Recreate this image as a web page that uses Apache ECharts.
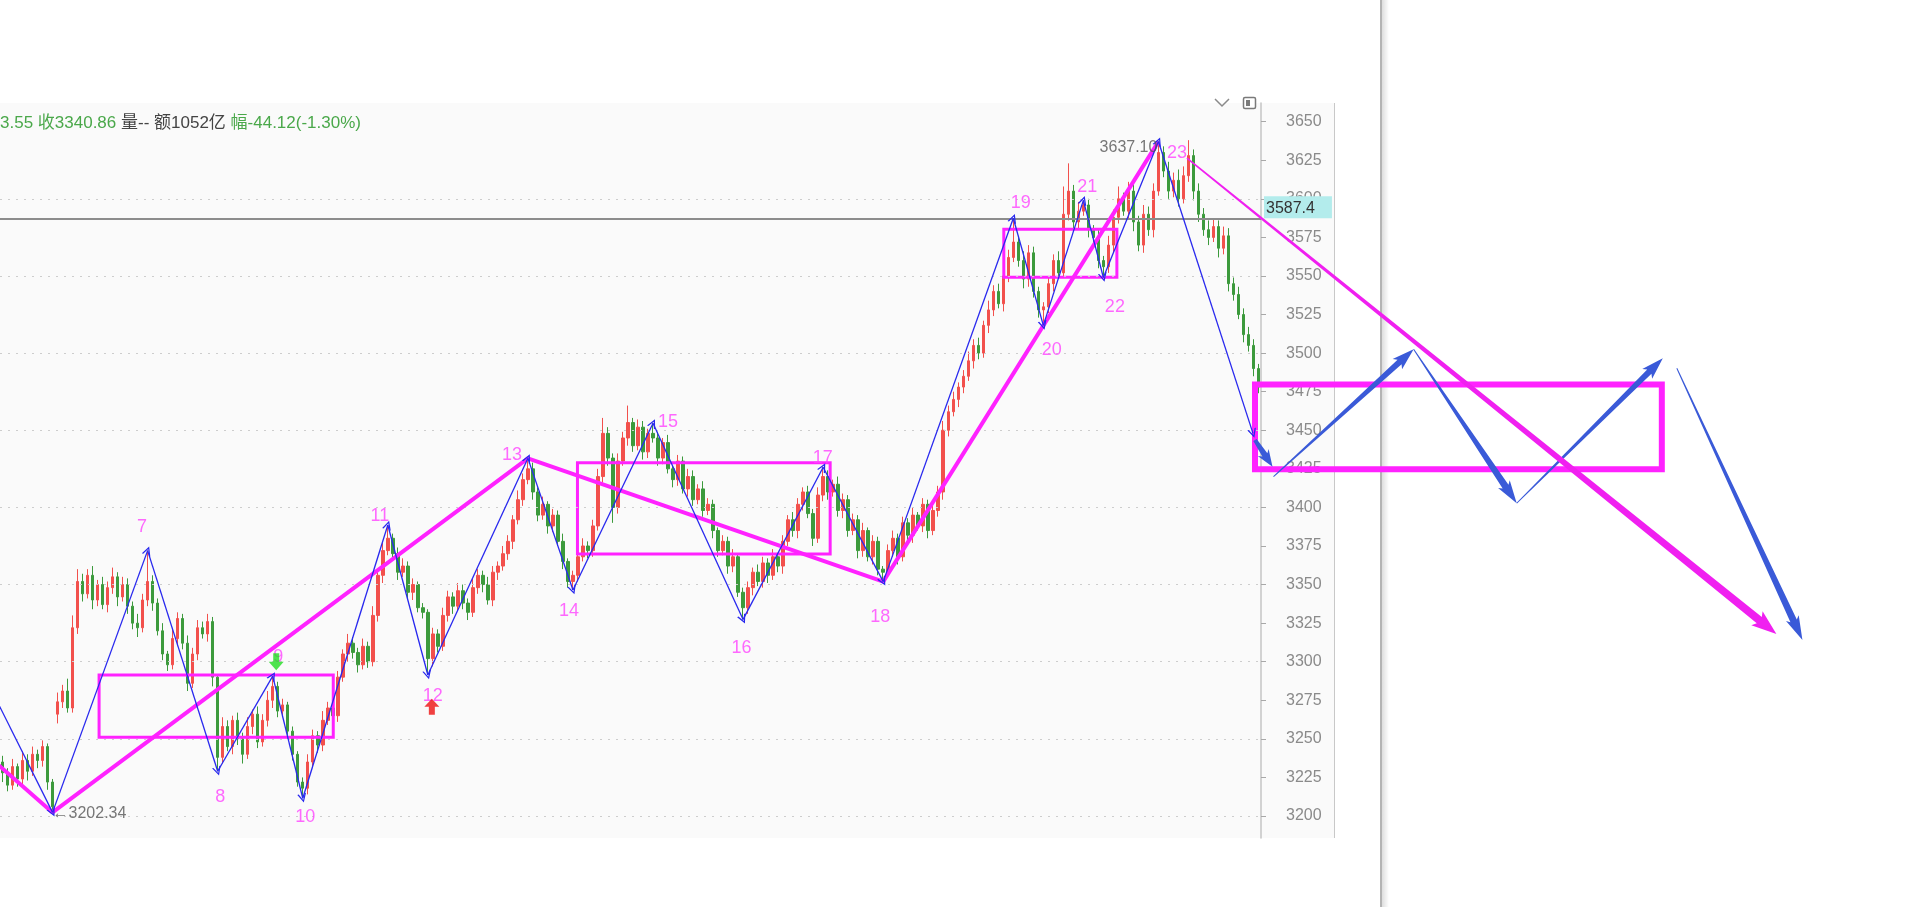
<!DOCTYPE html>
<html><head><meta charset="utf-8">
<script src="https://cdn.jsdelivr.net/npm/echarts@6.0.0/dist/echarts.min.js"></script>
<style>html,body{margin:0;padding:0;background:#fff;}#c{width:1920px;height:907px;}</style>
</head><body><div id="c"></div>
<script>
// ---------------- data ----------------
const firstOpen = 3235;
const closes = [
 3228,3220,3232,3224,3236,3229,3240,3236,3245,3222,
 3206,3274,3281,3270,3322,3352,3344,3356,3340,3350,
 3337,3348,3355,3342,3350,3336,3325,3322,3340,3352,
 3338,3320,3305,3298,3315,3328,3312,3286,3305,3322,
 3318,3326,3290,3238,3258,3245,3262,3250,3240,3258,
 3266,3248,3262,3275,3284,3268,3272,3255,3240,3222,
 3218,3235,3252,3246,3262,3270,3265,3290,3305,3312,
 3306,3298,3310,3300,3330,3356,3372,3380,3370,3358,
 3362,3345,3350,3335,3332,3302,3318,3310,3330,3342,
 3336,3346,3338,3332,3348,3356,3350,3340,3358,3362,
 3370,3378,3392,3405,3418,3425,3410,3395,3402,3388,
 3395,3378,3365,3352,3356,3368,3375,3372,3388,3420,
 3448,3432,3400,3430,3445,3455,3440,3452,3436,3448,
 3445,3432,3442,3425,3418,3430,3412,3420,3405,3412,
 3398,3402,3385,3372,3378,3362,3368,3345,3335,3348,
 3358,3352,3364,3356,3368,3362,3378,3392,3385,3402,
 3410,3396,3380,3408,3420,3410,3415,3398,3405,3385,
 3392,3372,3385,3368,3378,3360,3358,3372,3380,3368,
 3390,3382,3395,3388,3402,3385,3398,3410,3450,3462,
 3470,3478,3485,3495,3505,3500,3518,3528,3540,3532,
 3550,3562,3572,3560,3548,3565,3540,3528,3530,3545,
 3560,3552,3590,3605,3585,3592,3596,3580,3575,3560,
 3556,3570,3588,3600,3592,3605,3585,3570,3590,3580,
 3605,3630,3618,3605,3612,3600,3615,3628,3605,3590,
 3580,3575,3582,3568,3576,3545,3538,3525,3512,3505,
 3490,3478];
const upperWicks = [
 4,3,5,2,6,4,5,3,4,2, 2,6,4,8,8,8,5,4,6,3, 5,4,6,3,5,4,3,6,4,20,
 4,3,5,2,6,4,3,5,4,5, 4,5,3,2,6,4,3,5,4,6, 3,5,4,6,6.7,3,4,2,3,2,
 3,5,4,3,6,4,5,4,3,6, 4,3,5,3,6,4,5,8.6,3,4, 5,3,4,2,3,2,4,3,5,4,
 3,5,4,3,6,4,3,5,4,3, 5,4,3,6,4,6.8,4,3,5,2, 4,3,5,2,3,4,5,3,4,5,
 10,4,3,5,4,11,3,5,4,3, 6.5,4,3,5,2,4,3,5,4,3, 5,4,3,2,4,3,5,2,3,4,
 3,5,4,3,5,2,4,3,5,4, 3,4,3,5,6,4,3,5,4,3, 4,3,5,2,4,3,2,4,5,3,
 4,3,5,2,4,3,5,4,6,4, 5,3,4,6,4,5,3,6,4,5, 6,5,15.4,4,6,5,4,3,3,5,
 4,6,18,18,4,6,3,4,3,5, 3,6,5,8,4,6,5,4,6,5, 5,7.1,4,6,5,7,6,10,4,5,
 4,6,5,4,6,5,4,5,4,5, 4,3];
const lowerWicks = [
 6,4,3,5,4,6,3,5,4,5, 3.66,6,4,3,3,4,5,3,6,4, 3,5,4,6,3,5,4,6,3,4,
 5,3,4,4,3,5,4,5,3,4, 3,5,6,9,4,3,5,4,6,3, 5,4,3,4,5,4,3,5,4,3,
 6.5,4,3,5,4,3,5,4,3,5, 4,5,3,4,3,4,5,3,4,5, 3,4,5,3,4,10.6,5,4,3,4,
 5,3,4,5,3,4,5,3,4,5, 3,4,5,3,4,3,5,4,3,5, 4,3,5,4,5.5,4,3,5,4,3,
 4,5,10,4,3,5,4,3,5,4, 3,5,4,3,5,4,3,5,4,3, 4,3,5,4,3,5,4,3,7.6,4,
 5,3,4,5,3,4,5,3,4,5, 4,3,5,3,4,5,3,4,5,4, 3,5,4,3,5,4,6.1,3,4,5,
 3,4,5,3,4,5,3,4,5,4, 3,5,4,3,5,4,3,5,4,3, 5,4,3,4,6,5,4,5,10,4,
 5,4,3,4,5,4,3,5,4,5, 7,4,5,4,3,5,6,4,5,4, 5,3,4,5,4,5,3,4,6,5,
 4,5,3,6,4,5,4,3,5,4, 5,4];
const gapOpens = [[11, 3266]];

const tickValues = [3200,3225,3250,3275,3300,3325,3350,3375,3400,3425,3450,3475,3500,3525,3550,3575,3600,3625,3650];
const gridValues = [3200,3250,3300,3350,3400,3450,3500,3550,3600];
const lastRef = 3587.4;

// zigzag (blue, thin) vertices: candle index / price
const zigIdx = [-6.5, 10, 29, 43, 54, 60, 77, 85, 105, 114, 130, 148, 164, 176, 202, 208, 216, 220, 231, 249.9];
const zigVal = [3309.5, 3202.34, 3372, 3229, 3290.7, 3211.5, 3388.6, 3291.4, 3431.8, 3346.5, 3454.5, 3327.4, 3426, 3351.9, 3587.4, 3518, 3599, 3549, 3637.1, 3448];
// higher-degree zigzag (magenta, thick)
const magIdx = [-10, 10, 105, 176, 231];
const magVal = [3259.2, 3202.34, 3431.8, 3351.9, 3637.1];

// boxes: [leftIdx, topPrice, rightIdx, bottomPrice]
const boxes = [
 [19.3, 3291.4, 66.1, 3251.0],
 [114.9, 3429.0, 165.4, 3369.8],
 [200.1, 3580.2, 222.7, 3549.1],
 [250.3, 3479.7, 331.6, 3424.7]
];

// wave numbers
const waveLabels = ['7','8','9','10','11','12','13','14','15','16','17','18','19','20','21','22','23'];
const labelIdx = [27.9,43.5,55.1,60.5,75.4,86.0,101.8,113.2,133.0,147.7,163.9,175.4,203.5,209.7,216.8,222.3,234.7];
const labelVal = [3387.3,3212.3,3303.0,3199.4,3394.4,3277.8,3434.0,3332.9,3455.3,3308.9,3432.0,3329.0,3597.1,3502.0,3607.5,3530.1,3629.5];

// extreme value notes
const lowNote = {idx: 10, val: 3202.34, text: '←3202.34'};
const highNote = {idx: 231, val: 3637.1, text: '3637.10'};

// signal arrows
const buyIdx = [85.8], buyVal = [3270.8];
const sellIdx = [54.7], sellVal = [3300.0];

// projected arrows: [fromIdx, fromPrice, toIdx, toPrice]
const arrowsBlue = [
 [250.3, 3443.7, 253.8, 3426.4],
 [254.0, 3419.9, 282.0, 3502.5],
 [282.0, 3502.5, 302.6, 3402.7],
 [302.6, 3402.7, 331.8, 3496.6],
 [334.6, 3490.2, 359.7, 3314.1]
];
const arrowsMagenta = [
 [236.7, 3626.4, 354.5, 3318.0]
];

// ---------------- build ----------------
const gapMap = new Map(gapOpens);
const candles = closes.map((c, i) => {
  const o = gapMap.has(i) ? gapMap.get(i) : (i === 0 ? firstOpen : closes[i - 1]);
  return [o, c, Math.min(o, c) - lowerWicks[i], Math.max(o, c) + upperWicks[i]];
});
const categories = closes.map((_, i) => String(i));

const W = 1920, PLOT_W = 1261, TOP = 103, HEIGHT = 735;
const yMin = 3185.74, yMax = 3662.1;
const band = PLOT_W / closes.length;

const BLUE_THIN = '#2828ee', BLUE = '#3a5ad8', MAG = '#ff22ff', LBL = '#ff44ff';
const RED = '#f2504c', GREEN = '#3c9a3c';
const FONT = 'Liberation Sans, Arial, Noto Sans CJK SC, sans-serif';

const zigSegs = [];
for (let i = 0; i < zigIdx.length - 1; i++) {
  zigSegs.push({coords: [[zigIdx[i], zigVal[i]], [zigIdx[i + 1], zigVal[i + 1]]]});
}

const arrowData = arrowsBlue.concat(arrowsMagenta);
const arrowStyles = [
 {w0: 4, w1: 6, hw: 13, hl: 14, color: BLUE},
 {w0: 1, w1: 6, hw: 14, hl: 19, color: BLUE},
 {w0: 1, w1: 7, hw: 14, hl: 20, color: BLUE},
 {w0: 1, w1: 6, hw: 14, hl: 19, color: BLUE},
 {w0: 1, w1: 7, hw: 14, hl: 21, color: BLUE},
 {w0: 1.5, w1: 8, hw: 18, hl: 22, color: '#f020f0'}
];
const boxWidths = [3, 3, 3, 6];

function arrowItem(params, api) {
  const a = api.coord([api.value(0), api.value(1)]);
  const b = api.coord([api.value(2), api.value(3)]);
  const st = arrowStyles[params.dataIndex];
  const dx = b[0] - a[0], dy = b[1] - a[1], L = Math.hypot(dx, dy);
  const ux = dx / L, uy = dy / L, nx = -uy, ny = ux;
  const bx = b[0] - ux * st.hl, by = b[1] - uy * st.hl;
  const pts = [
    [a[0] + nx * st.w0 / 2, a[1] + ny * st.w0 / 2],
    [bx + nx * st.w1 / 2, by + ny * st.w1 / 2],
    [bx + nx * st.hw / 2 - ux * 3, by + ny * st.hw / 2 - uy * 3],
    [b[0], b[1]],
    [bx - nx * st.hw / 2 - ux * 3, by - ny * st.hw / 2 - uy * 3],
    [bx - nx * st.w1 / 2, by - ny * st.w1 / 2],
    [a[0] - nx * st.w0 / 2, a[1] - ny * st.w0 / 2]
  ];
  return {type: 'polygon', shape: {points: pts}, style: {fill: st.color}};
}
function boxItem(params, api) {
  const p0 = api.coord([api.value(0), api.value(1)]);
  const p1 = api.coord([api.value(2), api.value(3)]);
  return {
    type: 'rect',
    shape: {x: Math.min(p0[0], p1[0]), y: Math.min(p0[1], p1[1]), width: Math.abs(p1[0] - p0[0]), height: Math.abs(p1[1] - p0[1])},
    style: {fill: 'none', stroke: MAG, lineWidth: boxWidths[params.dataIndex]}
  };
}

const chevron = 'path://M0,10 L5,0 L10,10 L8.4,10 L5,3 L1.6,10 Z';
const upArrow = 'path://M5,0 L10,5.5 L7,5.5 L7,11 L3,11 L3,5.5 L0,5.5 Z';
const downArrow = 'path://M3,0 L7,0 L7,5.5 L10,5.5 L5,11 L0,5.5 L3,5.5 Z';

const chart = echarts.init(document.getElementById('c'), null, {renderer: 'canvas'});
chart.setOption({
  animation: false,
  backgroundColor: '#ffffff',
  title: {
    left: -5, top: 108,
    text: '{g|3.55 收3340.86 }{d|量-- 额1052亿 }{g|幅-44.12(-1.30%)}',
    textStyle: {fontWeight: 'normal', rich: {
      g: {color: '#4aa84a', fontSize: 17, fontWeight: 'normal', fontFamily: FONT, lineHeight: 20},
      d: {color: '#444444', fontSize: 17, fontWeight: 'normal', fontFamily: FONT, lineHeight: 20}
    }}
  },
  graphic: [
    {type: 'rect', z: -10, silent: true, shape: {x: 0, y: TOP, width: 1335, height: HEIGHT}, style: {fill: '#fafafa'}},
    {type: 'line', z: -9, silent: true, shape: {x1: 1334.5, y1: TOP, x2: 1334.5, y2: TOP + HEIGHT}, style: {stroke: '#c8c8c8', lineWidth: 1}},
    {type: 'rect', z: -9, silent: true, shape: {x: 1380, y: 0, width: 2, height: 907}, style: {fill: '#b4b4b4'}},
    {type: 'rect', z: -9, silent: true, shape: {x: 1382, y: 0, width: 7, height: 907},
      style: {fill: new echarts.graphic.LinearGradient(0, 0, 1, 0, [{offset: 0, color: 'rgba(0,0,0,0.13)'}, {offset: 1, color: 'rgba(0,0,0,0)'}])}},
    {type: 'polyline', z: 10, silent: true, shape: {points: [[1215, 99], [1222, 106], [1229, 99]]}, style: {stroke: '#8a8a8a', lineWidth: 1.5, fill: 'none'}},
    {type: 'rect', z: 10, silent: true, shape: {x: 1243.5, y: 97.5, width: 12, height: 11, r: 1.5}, style: {stroke: '#7a7a7a', lineWidth: 1.5, fill: '#ffffff'}},
    {type: 'rect', z: 10, silent: true, shape: {x: 1246, y: 100, width: 4, height: 6}, style: {fill: '#7a7a7a'}}
  ],
  grid: [
    {left: 0, width: PLOT_W, top: TOP, height: HEIGHT, show: false},
    {left: 0, width: W, top: TOP, height: HEIGHT, show: false}
  ],
  xAxis: [
    {type: 'category', gridIndex: 0, data: categories, show: false, boundaryGap: true},
    {type: 'value', gridIndex: 1, min: -0.5, max: -0.5 + W / band, show: false}
  ],
  yAxis: [
    {type: 'value', gridIndex: 0, position: 'right', min: yMin, max: yMax, scale: true,
      axisLine: {show: true, lineStyle: {color: '#c4c4c4', width: 1.5}},
      axisTick: {show: true, customValues: tickValues, length: 5, lineStyle: {color: '#a8a8a8'}},
      axisLabel: {customValues: tickValues, formatter: v => String(v), margin: 25, color: '#8a8a8a', fontSize: 16, fontFamily: FONT},
      splitLine: {show: false}},
    {type: 'value', gridIndex: 1, min: yMin, max: yMax, show: false, scale: true, splitLine: {show: false}}
  ],
  series: [
    {type: 'line', xAxisIndex: 0, yAxisIndex: 0, data: [], z: 1, silent: true,
      markLine: {silent: true, symbol: ['none', 'none'], label: {show: false},
        lineStyle: {color: '#cdcdcd', type: [2, 6], width: 1},
        data: gridValues.map(v => ({yAxis: v}))}},
    {type: 'candlestick', xAxisIndex: 0, yAxisIndex: 0, data: candles, barWidth: 3, z: 2,
      itemStyle: {color: RED, color0: GREEN, borderColor: RED, borderColor0: GREEN, borderWidth: 1}},
    {type: 'line', xAxisIndex: 0, yAxisIndex: 0, data: [], z: 3, silent: true,
      markLine: {silent: true, symbol: ['none', 'none'],
        lineStyle: {color: '#8c8c8c', width: 2, type: 'solid'},
        label: {show: true, position: 'end', distance: 3, formatter: String(lastRef),
          backgroundColor: '#b3ecec', color: '#333333', fontSize: 16, fontFamily: FONT,
          lineHeight: 18, padding: [3, 17, 1, 2], verticalAlign: 'bottom'},
        data: [{yAxis: lastRef}]}},
    {type: 'custom', xAxisIndex: 1, yAxisIndex: 1, z: 4, silent: true, renderItem: boxItem, data: boxes},
    {type: 'line', xAxisIndex: 1, yAxisIndex: 1, z: 5, silent: true, symbol: 'none',
      lineStyle: {color: MAG, width: 4}, data: magIdx.map((x, i) => [x, magVal[i]])},
    {type: 'lines', coordinateSystem: 'cartesian2d', xAxisIndex: 1, yAxisIndex: 1, z: 6, silent: true,
      symbol: ['none', chevron], symbolSize: 9,
      lineStyle: {color: BLUE_THIN, width: 1.3, opacity: 1}, data: zigSegs},
    {type: 'custom', xAxisIndex: 1, yAxisIndex: 1, z: 7, silent: true, renderItem: arrowItem, data: arrowData},
    {type: 'scatter', xAxisIndex: 1, yAxisIndex: 1, z: 8, silent: true, symbolSize: 0,
      label: {show: true, position: 'inside', formatter: p => p.name, color: LBL, fontSize: 18, fontFamily: FONT},
      data: waveLabels.map((t, i) => ({name: t, value: [labelIdx[i], labelVal[i]]}))},
    {type: 'scatter', xAxisIndex: 1, yAxisIndex: 1, z: 8, silent: true, symbolSize: 0,
      label: {show: true, formatter: p => p.name, color: '#555555', fontSize: 16, fontFamily: FONT},
      data: [
        {name: lowNote.text, value: [lowNote.idx, lowNote.val], label: {position: 'right', distance: 0, offset: [0, 1]}},
        {name: highNote.text, value: [highNote.idx, highNote.val], label: {position: 'left', distance: 1, offset: [0, 6]}}
      ]},
    {type: 'scatter', xAxisIndex: 1, yAxisIndex: 1, z: 9, silent: true, symbol: upArrow, symbolSize: [15, 16],
      itemStyle: {color: '#ee1111'}, data: buyIdx.map((x, i) => [x, buyVal[i]])},
    {type: 'scatter', xAxisIndex: 1, yAxisIndex: 1, z: 9, silent: true, symbol: downArrow, symbolSize: [15, 17],
      itemStyle: {color: '#22dd22'}, data: sellIdx.map((x, i) => [x, sellVal[i]])}
  ]
});
</script></body></html>
